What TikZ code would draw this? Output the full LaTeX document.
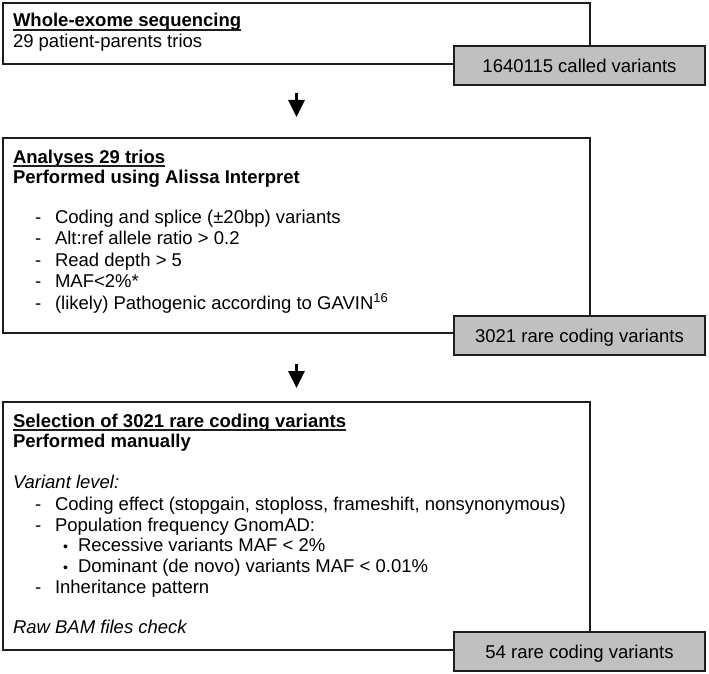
\documentclass[tikz,border=0pt]{standalone}
\usepackage{fontspec}
\setmainfont{Liberation Sans}
\usetikzlibrary{arrows.meta}
\definecolor{boxgray}{RGB}{192,192,192}
\definecolor{linec}{RGB}{30,30,30}
\begin{document}
\begin{tikzpicture}[x=1pt,y=-1pt,
  every node/.style={inner sep=0pt, outer sep=0pt, font=\fontsize{18.5}{21}\selectfont},
  frame/.style={draw=linec, line width=1.6pt, rectangle, anchor=north west, minimum width=587pt},
  graybox/.style={draw=linec, line width=1.6pt, fill=boxgray, rectangle, anchor=north west,
    minimum width=251pt, minimum height=39pt, text height=13.3pt, text depth=0pt},
  txt/.style={anchor=base west},
  bul/.style={anchor=base west, font=\fontsize{14}{16}\selectfont},
  ttl/.style={anchor=base west, font=\fontsize{18.5}{21}\selectfont\bfseries},
  ital/.style={anchor=base west, font=\fontsize{18.5}{21}\selectfont\itshape},
  ul/.style={line width=1.4pt, draw=linec},
  arr/.style={line width=3pt, draw=black, -{Triangle[width=16pt,length=17pt]}}
]
\useasboundingbox (0,0) rectangle (709,674);

% main frames
\node[frame, minimum height=61pt] (box1) at (3,3) {};
\node[frame, minimum height=195pt] (box2) at (3,138) {};
\node[frame, minimum height=248pt] (box3) at (3,402) {};

% box 1 text
\node[ttl] (t1) at (13,27) {Whole-exome sequencing};
\draw[ul] ([yshift=-3pt]t1.base west) -- ([yshift=-3pt]t1.base east);
\node[txt] (t1b) at (13,48) {29 patient-parents trios};

% box 2 text
\node[ttl] (t2) at (13,163) {Analyses 29 trios};
\draw[ul] ([yshift=-3pt]t2.base west) -- ([yshift=-3pt]t2.base east);
\node[ttl] (t2b) at (13,183) {Performed using Alissa Interpret};
\node[txt] (d21) at (35,223) {-};
\node[txt] (l21) at (55,223) {Coding and splice (±20bp) variants};
\node[txt] (d22) at (35,244.5) {-};
\node[txt] (l22) at (55,244.5) {Alt:ref allele ratio > 0.2};
\node[txt] (d23) at (35,266) {-};
\node[txt] (l23) at (55,266) {Read depth > 5};
\node[txt] (d24) at (35,287.5) {-};
\node[txt] (l24) at (55,287.5) {MAF<2\%*};
\node[txt] (d25) at (35,309) {-};
\node[txt] (l25) at (55,309) {(likely) Pathogenic according to GAVIN\textsuperscript{16}};

% box 3 text
\node[ttl] (t3) at (13,427) {Selection of 3021 rare coding variants};
\draw[ul] ([yshift=-3pt]t3.base west) -- ([yshift=-3pt]t3.base east);
\node[ttl] (t3b) at (13,447) {Performed manually};
\node[ital] (v3) at (13,488) {Variant level:};
\node[txt] (d31) at (35,510) {-};
\node[txt] (l31) at (55,510) {Coding effect (stopgain, stoploss, frameshift, nonsynonymous)};
\node[txt] (d32) at (35,531) {-};
\node[txt] (l32) at (55,531) {Population frequency GnomAD:};
\node[bul] (b33) at (63,551.5) {•};
\node[txt] (l33) at (78,551.5) {Recessive variants MAF < 2\%};
\node[bul] (b34) at (63,572) {•};
\node[txt] (l34) at (78,572) {Dominant (de novo) variants MAF < 0.01\%};
\node[txt] (d35) at (35,593) {-};
\node[txt] (l35) at (55,593) {Inheritance pattern};
\node[ital] (r3) at (13,633) {Raw BAM files check};

% grey result boxes
\node[graybox] (g1) at (454,46) {1640115 called variants};
\node[graybox] (g2) at (454,316) {3021 rare coding variants};
\node[graybox] (g3) at (454,632) {54 rare coding variants};

% arrows
\draw[arr, shorten <=29pt, shorten >=21pt] (box1.south) -- (box2.north);
\draw[arr, shorten <=31pt, shorten >=14pt] (box2.south) -- (box3.north);
\end{tikzpicture}
\end{document}
